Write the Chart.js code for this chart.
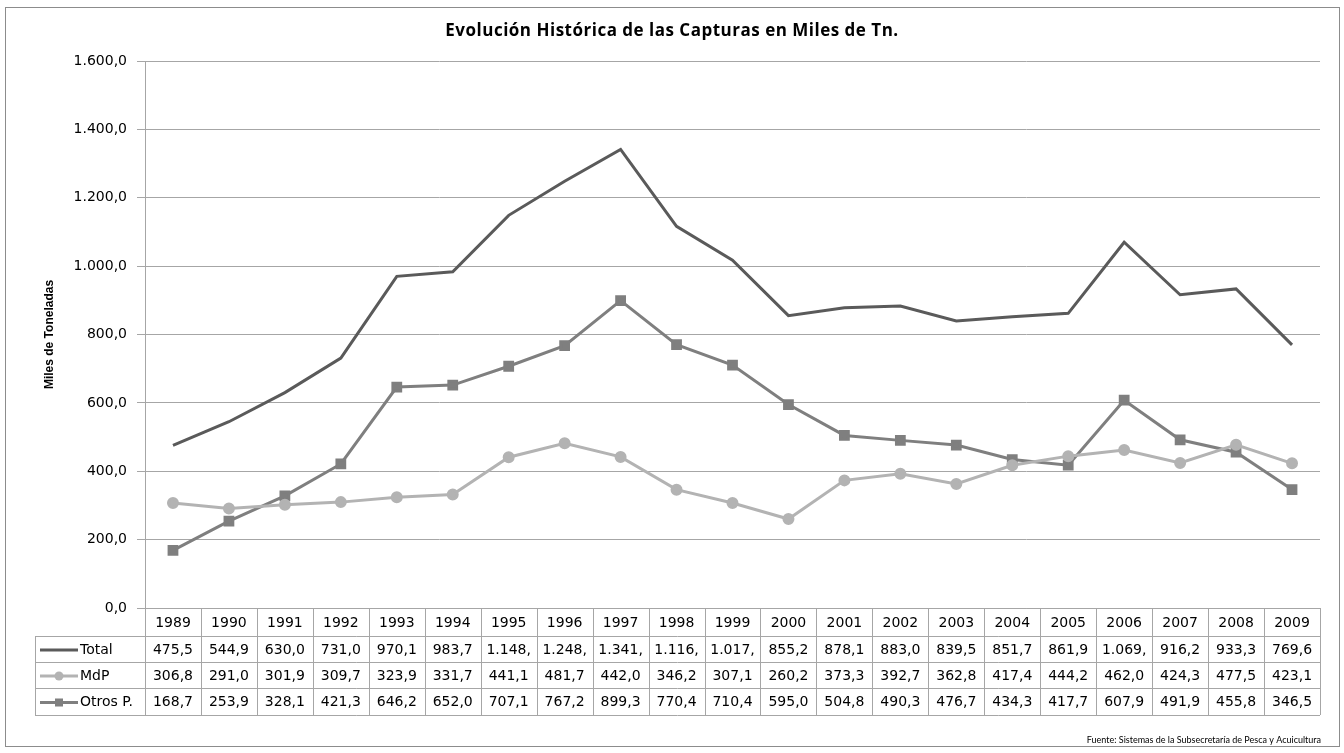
<!DOCTYPE html>
<html>
<head>
<meta charset="utf-8">
<script src="https://cdn.jsdelivr.net/npm/chart.js@4.4.1/dist/chart.umd.min.js"></script>
<style>
  html, body { margin: 0; padding: 0; background: #fff; }
  canvas { display: block; }
</style>
</head>
<body>
<canvas id="grafik" width="1344" height="753"></canvas>
<script>
// datos (miles de toneladas)
const anios = ['1989', '1990', '1991', '1992', '1993', '1994', '1995', '1996', '1997', '1998', '1999',
  '2000', '2001', '2002', '2003', '2004', '2005', '2006', '2007', '2008', '2009'];
const total = [475.5, 544.9, 630.0, 731.0, 970.1, 983.7, 1148.6, 1248.4, 1341.2, 1116.6, 1017.5,
  855.2, 878.1, 883.0, 839.5, 851.7, 861.9, 1069.9, 916.2, 933.3, 769.6];
const mdp = [306.8, 291.0, 301.9, 309.7, 323.9, 331.7, 441.1, 481.7, 442.0, 346.2, 307.1,
  260.2, 373.3, 392.7, 362.8, 417.4, 444.2, 462.0, 424.3, 477.5, 423.1];
const otros = [168.7, 253.9, 328.1, 421.3, 646.2, 652.0, 707.1, 767.2, 899.3, 770.4, 710.4,
  595.0, 504.8, 490.3, 476.7, 434.3, 417.7, 607.9, 491.9, 455.8, 346.5];
const yMin = 0;
const yMax = 1600;
const yPaso = 200;

const titulo = 'Evolución Histórica de las Capturas en Miles de Tn.';
const tituloEje = 'Miles de Toneladas';
const fuente = 'Fuente: Sistemas de la Subsecretaría de Pesca y Acuicultura';

const colorTotal = '#5a5a5a';
const colorMdp = '#b3b3b3';
const colorOtros = '#7f7f7f';
const colorGrilla = '#a6a6a6';
const fuenteTexto = 'DejaVu Sans, Verdana, sans-serif';

// formato 1.234,5
function formato(v) {
  const partes = v.toFixed(1).split('.');
  const entero = partes[0].replace(/\B(?=(\d{3})+(?!\d))/g, '.');
  return entero + ',' + partes[1];
}

// fondo, marco, titulos y tabla de datos
const tablaPlugin = {
  id: 'tabla',
  beforeDraw(chart) {
    const ctx = chart.ctx;
    ctx.save();
    ctx.fillStyle = '#fff';
    ctx.fillRect(0, 0, chart.width, chart.height);
    ctx.strokeStyle = '#8c8c8c';
    ctx.lineWidth = 1;
    ctx.strokeRect(5.5, 7.5, 1334, 739);
    ctx.restore();
  },
  afterDraw(chart) {
    const ctx = chart.ctx;
    const area = chart.chartArea;
    const x = chart.scales.x;
    ctx.save();

    // titulo
    ctx.fillStyle = '#000';
    ctx.font = 'bold 17px "Open Sans", sans-serif';
    ctx.letterSpacing = '0.5px';
    ctx.textAlign = 'center';
    ctx.textBaseline = 'middle';
    ctx.fillText(titulo, 672, 31);
    ctx.letterSpacing = '0px';

    // titulo del eje
    ctx.save();
    ctx.translate(50, (area.top + area.bottom) / 2);
    ctx.rotate(-Math.PI / 2);
    ctx.font = 'bold 12px "Liberation Sans Narrow", "Liberation Sans", sans-serif';
    ctx.fillText(tituloEje, 0, 0);
    ctx.restore();

    // tabla
    const colW = x.getPixelForValue(1) - x.getPixelForValue(0);
    const top = area.bottom;
    const filas = [0, 28, 54, 80, 107].map(v => top + v);
    const izq = 35;

    ctx.strokeStyle = colorGrilla;
    ctx.lineWidth = 1;
    ctx.beginPath();
    for (let i = 0; i < filas.length; i++) {
      const y = Math.round(filas[i]) + 0.5;
      ctx.moveTo(i === 0 ? area.left : izq, y);
      ctx.lineTo(area.right, y);
    }
    for (let c = 0; c <= anios.length; c++) {
      const xx = Math.round(area.left + c * colW) + 0.5;
      ctx.moveTo(xx, filas[0]);
      ctx.lineTo(xx, filas[4]);
    }
    ctx.moveTo(izq + 0.5, filas[1]);
    ctx.lineTo(izq + 0.5, filas[4]);
    ctx.stroke();

    ctx.font = '14px ' + fuenteTexto;
    ctx.fillStyle = '#000';
    ctx.textAlign = 'center';
    ctx.textBaseline = 'middle';
    anios.forEach((a, i) => {
      ctx.fillText(a, x.getPixelForValue(i), (filas[0] + filas[1]) / 2 + 1);
    });

    const series = chart.data.datasets;
    series.forEach((ds, r) => {
      const yc = (filas[r + 1] + filas[r + 2]) / 2 + 1;
      // clave de leyenda
      ctx.strokeStyle = ds.borderColor;
      ctx.lineWidth = 3;
      ctx.beginPath();
      ctx.moveTo(40, yc);
      ctx.lineTo(78, yc);
      ctx.stroke();
      if (ds.pointRadius > 0) {
        ctx.fillStyle = ds.pointBackgroundColor;
        if (ds.pointStyle === 'rect') {
          ctx.fillRect(55, yc - 4, 8, 8);
        } else {
          ctx.beginPath();
          ctx.arc(59, yc, 4.5, 0, Math.PI * 2);
          ctx.fill();
        }
      }
      ctx.fillStyle = '#000';
      ctx.textAlign = 'left';
      ctx.fillText(ds.label, 80, yc);

      // valores
      ctx.textAlign = 'center';
      ds.data.forEach((v, i) => {
        let txt = formato(v);
        while (ctx.measureText(txt).width > colW - 8) {
          txt = txt.slice(0, -1);
        }
        ctx.fillText(txt, x.getPixelForValue(i), yc);
      });
    });

    // fuente
    ctx.font = '9px Lato, sans-serif';
    ctx.textAlign = 'right';
    ctx.fillText(fuente, 1321, 740);

    ctx.restore();
  }
};

const ctx = document.getElementById('grafik').getContext('2d');
new Chart(ctx, {
  type: 'line',
  data: {
    labels: anios,
    datasets: [
      {
        label: 'Total',
        data: total,
        borderColor: colorTotal,
        backgroundColor: colorTotal,
        borderWidth: 3,
        pointRadius: 0,
        tension: 0
      },
      {
        label: 'MdP',
        data: mdp,
        borderColor: colorMdp,
        backgroundColor: colorMdp,
        pointBackgroundColor: colorMdp,
        pointBorderColor: colorMdp,
        borderWidth: 3,
        pointStyle: 'circle',
        pointRadius: 4.5,
        tension: 0
      },
      {
        label: 'Otros P.',
        data: otros,
        borderColor: colorOtros,
        backgroundColor: colorOtros,
        pointBackgroundColor: colorOtros,
        pointBorderColor: colorOtros,
        borderWidth: 3,
        pointStyle: 'rect',
        pointRadius: 5.5,
        tension: 0
      }
    ]
  },
  options: {
    responsive: false,
    animation: false,
    layout: { padding: { left: 35, top: 61, right: 24, bottom: 145 } },
    plugins: {
      legend: { display: false },
      title: { display: false },
      tooltip: { enabled: false }
    },
    scales: {
      x: {
        type: 'category',
        display: false,
        offset: true
      },
      y: {
        min: yMin,
        max: yMax,
        ticks: {
          stepSize: yPaso,
          color: '#000',
          padding: 10,
          font: { family: fuenteTexto, size: 14 },
          callback: v => formato(v)
        },
        grid: { color: colorGrilla, tickLength: 8, lineWidth: 1 },
        border: { color: colorGrilla },
        afterFit: s => { s.width = 110; }
      }
    }
  },
  plugins: [tablaPlugin]
});
</script>
</body>
</html>
